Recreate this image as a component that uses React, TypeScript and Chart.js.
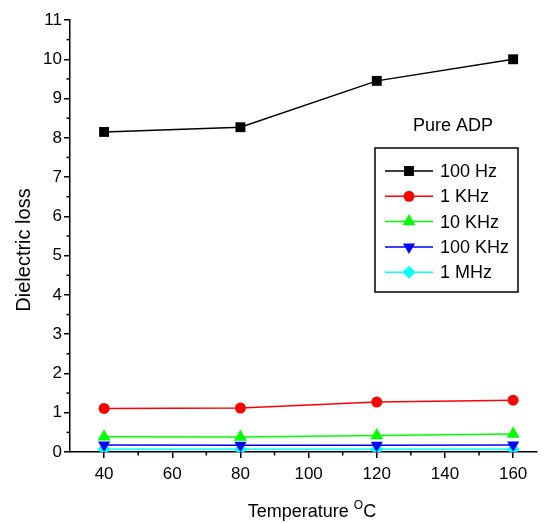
import React, { useEffect, useRef } from "react";
import { Chart, registerables } from "chart.js";

Chart.register(...registerables);

const temperatures = [40, 80, 120, 160];
const hz100 = [8.15, 8.27, 9.45, 10.0];
const khz1 = [1.11, 1.12, 1.27, 1.32];
const khz10 = [0.39, 0.38, 0.42, 0.46];
const khz100 = [0.18, 0.17, 0.17, 0.18];
const mhz1 = [0.07, 0.07, 0.07, 0.07];

const xMajorTicks = [40, 60, 80, 100, 120, 140, 160];
const xMinorTicks = [50, 70, 90, 110, 130, 150];
const yMajorTicks = [0, 1, 2, 3, 4, 5, 6, 7, 8, 9, 10, 11];
const yMinorTicks = [0.5, 1.5, 2.5, 3.5, 4.5, 5.5, 6.5, 7.5, 8.5, 9.5, 10.5];

const seriesLabels = ["100 Hz", "1 KHz", "10 KHz", "100 KHz", "1 MHz"];
const seriesColors = ["#000000", "#ff0000", "#00ff00", "#0000ff", "#00ffff"];
const seriesStyles = ["rect", "circle", "triangle", "triangle", "rectRot"];
const seriesRotations = [0, 0, 0, 180, 0];
const seriesRadius = [7, 5.5, 7.5, 7, 6.5];
const seriesData = [hz100, khz1, khz10, khz100, mhz1];

const FONT = "'Liberation Sans', Arial, sans-serif";

function drawMarker(ctx: CanvasRenderingContext2D, style: string, r: number, rot: number, cx: number, cy: number) {
  ctx.beginPath();
  if (style === "rect") {
    const s = Math.SQRT1_2 * r;
    ctx.rect(cx - s, cy - s, 2 * s, 2 * s);
  } else if (style === "circle") {
    ctx.arc(cx, cy, r, 0, Math.PI * 2);
  } else if (style === "triangle") {
    const a = (rot * Math.PI) / 180;
    for (let k = 0; k < 3; k++) {
      const ang = a - Math.PI / 2 + (k * 2 * Math.PI) / 3;
      const px = cx + Math.cos(ang) * r;
      const py = cy + Math.sin(ang) * r;
      if (k === 0) ctx.moveTo(px, py);
      else ctx.lineTo(px, py);
    }
    ctx.closePath();
  } else if (style === "rectRot") {
    ctx.moveTo(cx, cy - r);
    ctx.lineTo(cx + r, cy);
    ctx.lineTo(cx, cy + r);
    ctx.lineTo(cx - r, cy);
    ctx.closePath();
  }
  ctx.fill();
}

const customPlugin = {
  id: "customDecor",
  afterDraw(chart: any) {
    const { ctx, chartArea, scales } = chart;
    const x = scales.x;
    const y = scales.y;
    ctx.save();
    ctx.strokeStyle = "#000";
    ctx.lineWidth = 1.5;
    for (const v of yMinorTicks) {
      const py = y.getPixelForValue(v);
      ctx.beginPath();
      ctx.moveTo(chartArea.left - 3.5, py);
      ctx.lineTo(chartArea.left, py);
      ctx.stroke();
    }
    for (const v of xMinorTicks) {
      const px = x.getPixelForValue(v);
      ctx.beginPath();
      ctx.moveTo(px, chartArea.bottom);
      ctx.lineTo(px, chartArea.bottom + 3.5);
      ctx.stroke();
    }

    ctx.fillStyle = "#000";
    ctx.save();
    ctx.translate(24, 250);
    ctx.rotate(-Math.PI / 2);
    ctx.font = `20px ${FONT}`;
    ctx.textAlign = "center";
    ctx.textBaseline = "middle";
    ctx.fillText("Dielectric loss", 0, 0);
    ctx.restore();

    const mainFont = `18px ${FONT}`;
    const supFont = `12px ${FONT}`;
    const part1 = "Temperature ";
    const part2 = "O";
    const part3 = "C";
    ctx.font = mainFont;
    const w1 = ctx.measureText(part1).width;
    const w3 = ctx.measureText(part3).width;
    ctx.font = supFont;
    const w2 = ctx.measureText(part2).width;
    const total = w1 + w2 + w3;
    let sx = 312 - total / 2;
    const baseY = 517;
    ctx.textAlign = "left";
    ctx.textBaseline = "alphabetic";
    ctx.font = mainFont;
    ctx.fillText(part1, sx, baseY);
    sx += w1;
    ctx.font = supFont;
    ctx.fillText(part2, sx, baseY - 8);
    sx += w2;
    ctx.font = mainFont;
    ctx.fillText(part3, sx, baseY);

    ctx.font = `18px ${FONT}`;
    ctx.textAlign = "center";
    ctx.textBaseline = "middle";
    ctx.fillText("Pure ADP", 453, 126);

    ctx.lineWidth = 1.5;
    ctx.strokeStyle = "#000";
    ctx.strokeRect(375, 148, 143, 144);
    const rowY0 = 171;
    const rowGap = 25.3;
    chart.data.datasets.forEach((ds: any, i: number) => {
      const ry = rowY0 + i * rowGap;
      ctx.strokeStyle = ds.borderColor;
      ctx.lineWidth = 1.5;
      ctx.beginPath();
      ctx.moveTo(385, ry);
      ctx.lineTo(433, ry);
      ctx.stroke();
      ctx.fillStyle = ds.pointBackgroundColor;
      drawMarker(ctx, ds.pointStyle, ds.pointRadius, ds.pointRotation, 409, ry);
      ctx.fillStyle = "#000";
      ctx.font = `18px ${FONT}`;
      ctx.textAlign = "left";
      ctx.textBaseline = "middle";
      ctx.fillText(ds.label, 440, ry + 1);
    });
    ctx.restore();
  },
};

export default function App() {
  const ref = useRef<HTMLCanvasElement | null>(null);
  useEffect(() => {
    if (!ref.current) return;
    const chart = new Chart(ref.current, {
      type: "line",
      data: {
        datasets: seriesData.map((vals, i) => ({
          label: seriesLabels[i],
          data: temperatures.map((t, j) => ({ x: t, y: vals[j] })),
          borderColor: seriesColors[i],
          backgroundColor: seriesColors[i],
          pointBackgroundColor: seriesColors[i],
          pointBorderColor: seriesColors[i],
          pointBorderWidth: 0,
          pointStyle: seriesStyles[i] as any,
          pointRotation: seriesRotations[i],
          pointRadius: seriesRadius[i],
          borderWidth: 1.5,
          tension: 0,
          fill: false,
        })),
      },
      options: {
        animation: false,
        responsive: false,
        layout: { padding: { top: 20, right: 11, left: 0, bottom: 0 } },
        plugins: { legend: { display: false }, tooltip: { enabled: false } },
        scales: {
          x: {
            type: "linear",
            min: 30,
            max: 167,
            afterBuildTicks: (s: any) => {
              s.ticks = xMajorTicks.map((v) => ({ value: v }));
            },
            afterFit: (s: any) => {
              s.height = 71;
            },
            grid: {
              drawOnChartArea: false,
              drawTicks: true,
              tickLength: 6,
              tickWidth: 1.5,
              tickColor: "#000",
              color: "#000",
              lineWidth: 1.5,
            },
            border: { display: true, color: "#000", width: 1.5 },
            ticks: {
              color: "#000",
              font: { family: FONT, size: 17 },
              padding: 6,
              maxRotation: 0,
            },
          },
          y: {
            type: "linear",
            min: 0,
            max: 11,
            afterBuildTicks: (s: any) => {
              s.ticks = yMajorTicks.map((v) => ({ value: v }));
            },
            afterFit: (s: any) => {
              s.width = 70;
            },
            grid: {
              drawOnChartArea: false,
              drawTicks: true,
              tickLength: 6,
              tickWidth: 1.5,
              tickColor: "#000",
              color: "#000",
              lineWidth: 1.5,
            },
            border: { display: true, color: "#000", width: 1.5 },
            ticks: {
              color: "#000",
              font: { family: FONT, size: 17 },
              padding: 2,
            },
          },
        },
      },
      plugins: [customPlugin],
    });
    return () => chart.destroy();
  }, []);
  return (
    <div style={{ position: "absolute", left: 0, top: 0, width: 548, height: 523, background: "#fff" }}>
      <canvas ref={ref} width={548} height={523} style={{ display: "block" }} />
    </div>
  );
}
